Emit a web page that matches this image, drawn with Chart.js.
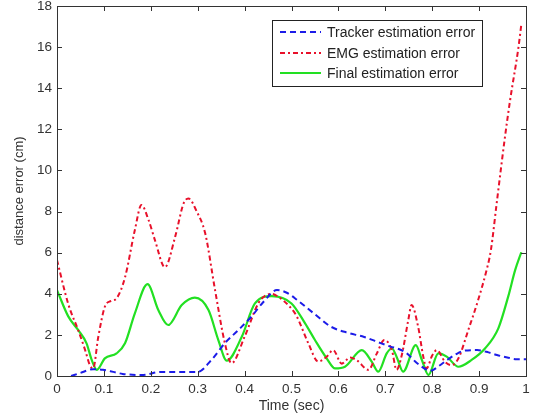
<!DOCTYPE html>
<html>
<head>
<meta charset="utf-8">
<script src="https://cdn.jsdelivr.net/npm/chart.js@4.4.1/dist/chart.umd.min.js"></script>
<style>
  html, body { margin: 0; padding: 0; background: #fff; }
  #wrap { width: 534px; height: 418px; position: relative; }
</style>
</head>
<body>
<div id="wrap"><canvas id="errorChart"></canvas></div>
<script>
// values
const trackerX = [0.03, 0.05, 0.077, 0.098, 0.12, 0.14, 0.184, 0.22, 0.26, 0.3, 0.33, 0.358, 0.385, 0.415, 0.44, 0.469, 0.49, 0.512, 0.55, 0.584, 0.62, 0.655, 0.69, 0.711, 0.73, 0.746, 0.768, 0.797, 0.815, 0.832, 0.85, 0.868, 0.896, 0.92, 0.938, 0.96, 0.98, 1.0];
const trackerY = [0, 0.15, 0.33, 0.3, 0.2, 0.1, 0.05, 0.2, 0.2, 0.2, 0.8, 1.6, 2.2, 2.9, 3.6, 4.18, 4.05, 3.7, 3.0, 2.4, 2.1, 1.9, 1.6, 1.43, 1.3, 1.1, 0.62, 0.26, 0.5, 0.78, 1.05, 1.23, 1.26, 1.15, 1.02, 0.9, 0.82, 0.82];

const emgX = [0, 0.024, 0.045, 0.06, 0.07, 0.077, 0.088, 0.102, 0.115, 0.127, 0.145, 0.166, 0.18, 0.195, 0.209, 0.23, 0.252, 0.27, 0.28, 0.298, 0.316, 0.337, 0.358, 0.372, 0.4, 0.429, 0.443, 0.457, 0.475, 0.493, 0.51, 0.536, 0.557, 0.575, 0.589, 0.607, 0.625, 0.64, 0.664, 0.682, 0.698, 0.714, 0.724, 0.735, 0.749, 0.756, 0.77, 0.781, 0.788, 0.8, 0.81, 0.827, 0.841, 0.856, 0.877, 0.898, 0.916, 0.925, 0.938, 0.955, 0.966, 0.984, 0.99];
const emgY = [5.64, 3.5, 2.24, 1.26, 0.53, 0.37, 1.9, 3.37, 3.65, 3.78, 4.8, 7.1, 8.32, 7.6, 6.6, 5.29, 6.78, 8.4, 8.64, 8.0, 6.94, 4.18, 1.59, 0.62, 1.91, 3.53, 3.89, 4.0, 3.8, 3.45, 2.95, 1.59, 0.7, 0.94, 1.26, 0.6, 0.9, 0.75, 0.3, 1.1, 1.75, 1.26, 0.3, 1.0, 2.72, 3.45, 2.4, 0.94, 0.37, 1.0, 1.26, 0.7, 0.53, 0.86, 2.24, 3.7, 5.16, 6.1, 8.5, 11.6, 13.4, 16.0, 17.1];

const finalX = [0, 0.024, 0.045, 0.063, 0.074, 0.085, 0.102, 0.127, 0.145, 0.166, 0.193, 0.216, 0.237, 0.266, 0.294, 0.323, 0.344, 0.362, 0.394, 0.422, 0.458, 0.5, 0.529, 0.55, 0.575, 0.593, 0.614, 0.65, 0.671, 0.685, 0.703, 0.714, 0.724, 0.738, 0.765, 0.778, 0.792, 0.813, 0.831, 0.856, 0.884, 0.913, 0.941, 0.962, 0.977, 0.99];
const finalY = [4.18, 2.9, 2.24, 1.59, 0.78, 0.3, 0.86, 1.1, 1.59, 3.05, 4.47, 3.21, 2.48, 3.45, 3.81, 3.21, 1.75, 0.75, 1.91, 3.53, 3.89, 3.53, 2.56, 1.75, 0.86, 0.37, 0.45, 1.26, 0.7, 0.21, 1.1, 1.35, 0.94, 0.21, 1.5, 0.78, 0.05, 1.1, 0.94, 0.45, 0.78, 1.35, 2.32, 3.86, 5.16, 6.02];

const seriesLabels = ['Tracker estimation error', 'EMG estimation error', 'Final estimation error'];
const xTicks = [0, 0.1, 0.2, 0.3, 0.4, 0.5, 0.6, 0.7, 0.8, 0.9, 1];
const yTicks = [0, 2, 4, 6, 8, 10, 12, 14, 16, 18];

const toPoints = (xs, ys) => xs.map((x, i) => ({x: x, y: ys[i]}));
const textColor = '#333';
const fontFamily = '"Liberation Sans", Arial, sans-serif';

// box around the plot + inward tick marks on all four sides
const boxTicks = {
    id: 'boxTicks',
    afterDatasetsDraw(chart) {
        const {ctx, chartArea: a, scales} = chart;
        ctx.save();
        ctx.strokeStyle = '#333';
        ctx.lineWidth = 1;
        const len = 5;
        ctx.beginPath();
        xTicks.forEach(v => {
            const px = Math.round(scales.x.getPixelForValue(v)) + 0.5;
            ctx.moveTo(px, a.bottom); ctx.lineTo(px, a.bottom - len);
            ctx.moveTo(px, a.top); ctx.lineTo(px, a.top + len);
        });
        yTicks.forEach(v => {
            const py = Math.round(scales.y.getPixelForValue(v)) + 0.5;
            ctx.moveTo(a.left, py); ctx.lineTo(a.left + len, py);
            ctx.moveTo(a.right, py); ctx.lineTo(a.right - len, py);
        });
        ctx.stroke();
        ctx.strokeRect(Math.round(a.left) + 0.5, Math.round(a.top) + 0.5,
            Math.round(a.right - a.left), Math.round(a.bottom - a.top));
        ctx.restore();
    },
    afterDraw(chart) {
        // legend box inside the plot, top right
        const {ctx} = chart;
        const bx = 272, by = 20, bw = 210, bh = 66;
        ctx.save();
        ctx.fillStyle = '#fff';
        ctx.fillRect(bx, by, bw, bh);
        ctx.strokeStyle = '#222';
        ctx.lineWidth = 1;
        ctx.strokeRect(bx + 0.5, by + 0.5, bw, bh);
        ctx.font = '14px ' + fontFamily;
        ctx.textBaseline = 'middle';
        const rows = [32, 53, 73];
        chart.data.datasets.forEach((ds, i) => {
            ctx.strokeStyle = ds.borderColor;
            ctx.lineWidth = ds.borderWidth;
            ctx.setLineDash(ds.borderDash || []);
            ctx.beginPath();
            ctx.moveTo(280, rows[i]);
            ctx.lineTo(321, rows[i]);
            ctx.stroke();
            ctx.setLineDash([]);
            ctx.fillStyle = '#222';
            ctx.fillText(ds.label, 327, rows[i] + 1);
        });
        ctx.restore();
    }
};

new Chart(document.getElementById('errorChart'), {
    type: 'line',
    data: {
        datasets: [
            {
                label: seriesLabels[0],
                data: toPoints(trackerX, trackerY),
                borderColor: '#1c1ce8',
                borderWidth: 2,
                borderDash: [6, 4],
            },
            {
                label: seriesLabels[1],
                data: toPoints(emgX, emgY),
                borderColor: '#e8102a',
                borderWidth: 2,
                borderDash: [5, 3, 2, 3],
            },
            {
                label: seriesLabels[2],
                data: toPoints(finalX, finalY),
                borderColor: '#22e022',
                borderWidth: 2.2,
            }
        ]
    },
    options: {
        responsive: true,
        maintainAspectRatio: false,
        animation: false,
        elements: {
            point: {radius: 0},
            line: {cubicInterpolationMode: 'monotone', fill: false}
        },
        layout: {padding: {left: 0, top: 6, right: 8, bottom: 0}},
        plugins: {
            legend: {display: false},
            tooltip: {enabled: false}
        },
        scales: {
            x: {
                type: 'linear',
                min: 0,
                max: 1,
                afterFit: s => { s.height = 42; s.paddingLeft = 0; s.paddingRight = 0; },
                afterBuildTicks: s => { s.ticks = xTicks.map(v => ({value: v})); },
                grid: {display: false, drawTicks: false},
                border: {display: false},
                ticks: {
                    padding: 5,
                    color: textColor,
                    font: {family: fontFamily, size: 13.5},
                    maxRotation: 0,
                    callback: v => String(v)
                },
                title: {
                    display: true,
                    text: 'Time (sec)',
                    color: textColor,
                    font: {family: fontFamily, size: 14},
                    padding: {top: 0, bottom: 3}
                }
            },
            y: {
                min: 0,
                max: 18,
                afterFit: s => { s.width = 57; s.paddingTop = 0; s.paddingBottom = 0; },
                afterBuildTicks: s => { s.ticks = yTicks.map(v => ({value: v})); },
                grid: {display: false, drawTicks: false},
                border: {display: false},
                ticks: {
                    padding: 5,
                    color: textColor,
                    font: {family: fontFamily, size: 13.5}
                },
                title: {
                    display: true,
                    text: 'distance error (cm)',
                    color: textColor,
                    font: {family: fontFamily, size: 13},
                    padding: {top: 12, bottom: 0}
                }
            }
        }
    },
    plugins: [boxTicks]
});
</script>
</body>
</html>
